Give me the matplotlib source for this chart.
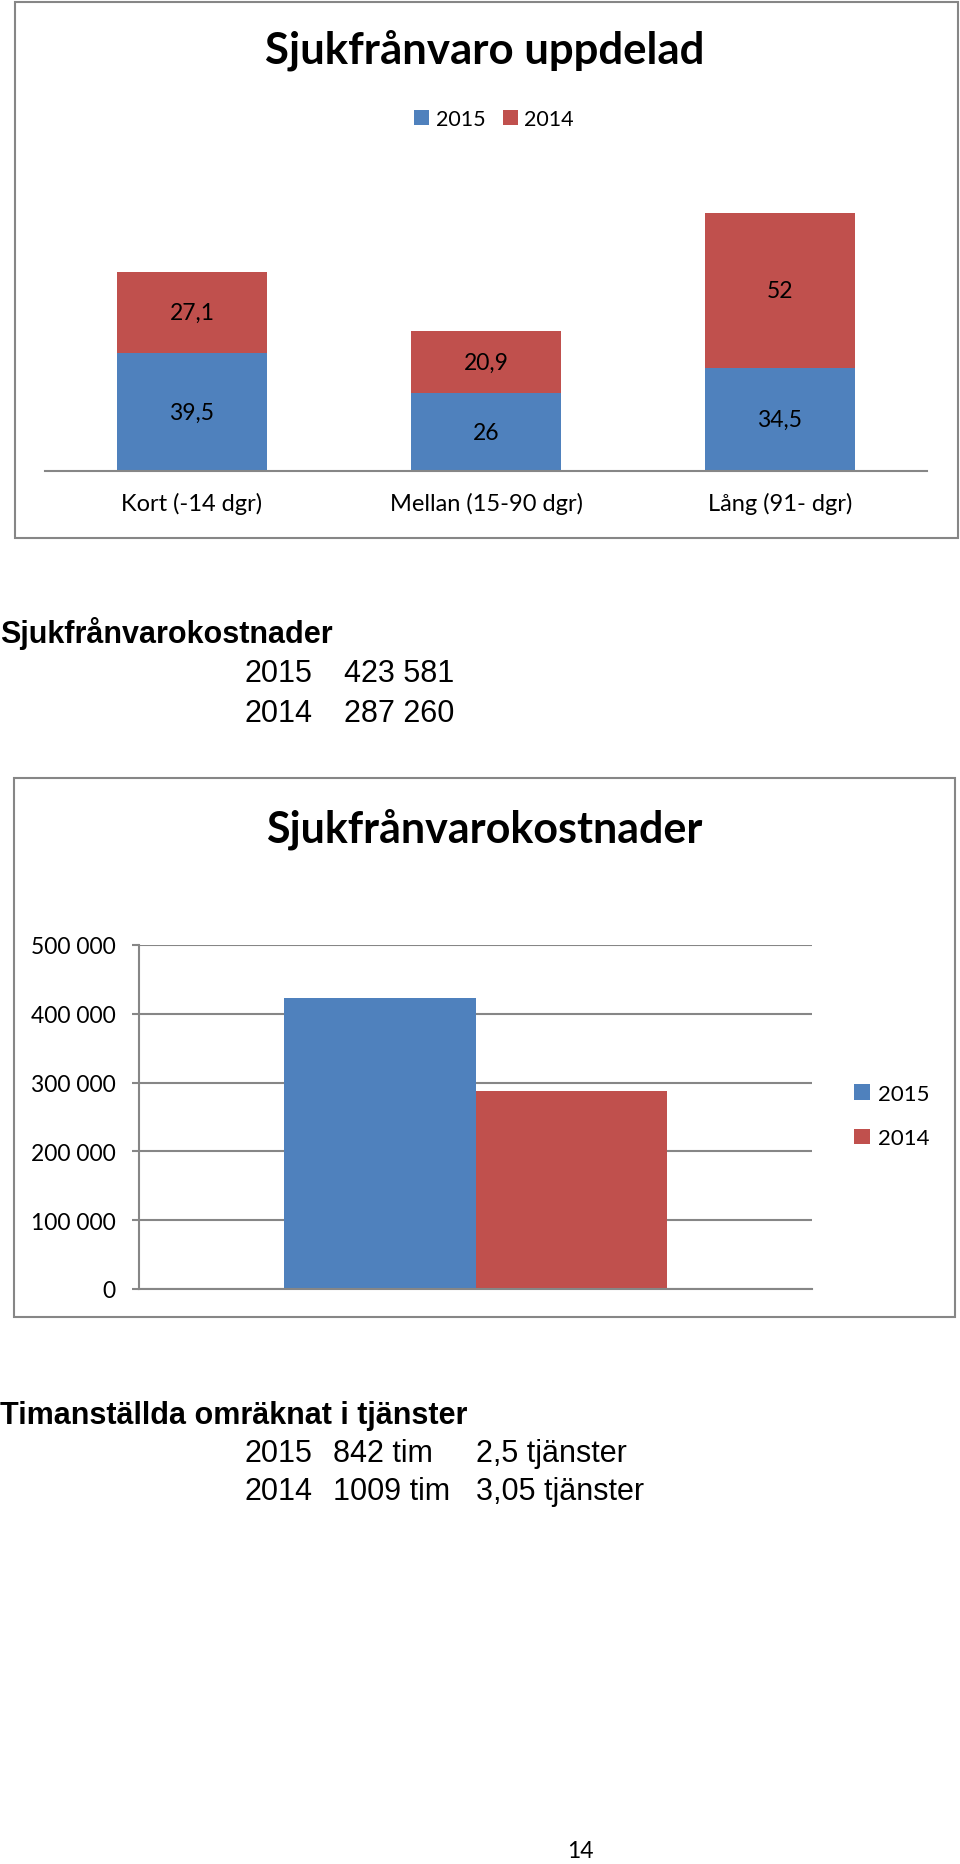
import matplotlib.pyplot as plt
from matplotlib.patches import Rectangle

# data
categories = ['Kort (-14 dgr)', 'Mellan (15-90 dgr)', 'Lång (91- dgr)']
days_2015 = [39.5, 26, 34.5]
days_2014 = [27.1, 20.9, 52]
labels_2015 = ['39,5', '26', '34,5']
labels_2014 = ['27,1', '20,9', '52']

cost_years = ['2015', '2014']
cost_values = [423581, 287260]
cost_ticks = [0, 100000, 200000, 300000, 400000, 500000]
cost_tick_labels = ['0', '100 000', '200 000', '300 000', '400 000', '500 000']

tim_rows = [('2015', '842 tim', '2,5 tjänster'), ('2014', '1009 tim', '3,05 tjänster')]
cost_rows = [('2015', '423 581'), ('2014', '287 260')]

BLUE = '#4f81bd'
RED = '#c0504d'
GRAY = '#868686'
W, H = 960, 1865
CHART_FONT = 'Lato'
TEXT_FONT = 'Liberation Sans'
TXT = 22

fig = plt.figure(figsize=(W / 100, H / 100), dpi=100)


def fx(x):
    return x / W


def fy(y):
    return 1 - y / H


def axes_px(left, top, right, bottom):
    return fig.add_axes([fx(left), fy(bottom), (right - left) / W, (bottom - top) / H])


def border(left, top, right, bottom):
    fig.patches.append(Rectangle((fx(left), fy(bottom)), (right - left) / W, (bottom - top) / H,
                                 transform=fig.transFigure, fill=False, edgecolor=GRAY, linewidth=1.5))


#%% chart 1 - stacked bars
border(15, 3, 958, 539)
fig.text(fx(485), fy(50), 'Sjukfrånvaro uppdelad', ha='center', va='center',
         family=CHART_FONT, fontweight='bold', fontsize=31.5)

ax1 = axes_px(45, 170, 927, 472)
x = range(len(categories))
b1 = ax1.bar(x, days_2015, width=0.507, color=BLUE, label='2015')
b2 = ax1.bar(x, days_2014, width=0.507, bottom=days_2015, color=RED, label='2014')
for i in x:
    ax1.text(i, days_2015[i] / 2, labels_2015[i], ha='center', va='center',
             family=CHART_FONT, fontsize=16.5)
    ax1.text(i, days_2015[i] + days_2014[i] / 2, labels_2014[i], ha='center', va='center',
             family=CHART_FONT, fontsize=16.5)
ax1.set_xlim(-0.5, 2.5)
ax1.set_ylim(0, 101.1)
ax1.set_xticks(list(x))
ax1.set_xticklabels(categories, family=CHART_FONT, fontsize=17)
ax1.tick_params(axis='x', length=0, pad=15)
ax1.set_yticks([])
for s in ['top', 'right', 'left']:
    ax1.spines[s].set_visible(False)
ax1.spines['bottom'].set_color(GRAY)
ax1.spines['bottom'].set_linewidth(1.5)
ax1.patch.set_visible(False)
fig.legend(handles=[b1, b2], loc='center', bbox_to_anchor=(fx(494), fy(120)), ncol=2,
           frameon=False, prop={'family': CHART_FONT, 'size': 15.5},
           handlelength=0.7, handleheight=0.7, handletextpad=0.3, columnspacing=0.8)

#%% text block 1
fig.text(0, fy(634), 'Sjukfrånvarokostnader', ha='left', va='center',
         family=TEXT_FONT, fontweight='bold', fontsize=TXT)
for j, (yr, val) in enumerate(cost_rows):
    yy = fy(674 + j * 40)
    fig.text(fx(245), yy, yr, ha='left', va='center', family=TEXT_FONT, fontsize=TXT)
    fig.text(fx(344), yy, val, ha='left', va='center', family=TEXT_FONT, fontsize=TXT)

#%% chart 2 - cost bars
border(14, 779, 955, 1318)
fig.text(fx(484), fy(829), 'Sjukfrånvarokostnader', ha='center', va='center',
         family=CHART_FONT, fontweight='bold', fontsize=31)

ax2 = axes_px(139, 946, 812, 1290)
bw = 0.284
bars = ax2.bar([-bw / 2, bw / 2], cost_values, width=bw, color=[BLUE, RED])
ax2.set_xlim(-0.5, 0.5)
ax2.set_ylim(0, 500000)
ax2.set_yticks(cost_ticks)
ax2.set_yticklabels(cost_tick_labels, family=CHART_FONT, fontsize=16.5)
ax2.set_xticks([])
ax2.yaxis.grid(True, color=GRAY, linewidth=1.5)
ax2.set_axisbelow(True)
ax2.tick_params(axis='y', length=5, color=GRAY, width=1.5, pad=12)
for s in ['top', 'right']:
    ax2.spines[s].set_visible(False)
for s in ['left', 'bottom']:
    ax2.spines[s].set_color(GRAY)
    ax2.spines[s].set_linewidth(1.5)
ax2.legend(handles=list(bars), labels=cost_years, loc='center left',
           bbox_to_anchor=(fx(834), fy(1117)), bbox_transform=fig.transFigure,
           frameon=False, prop={'family': CHART_FONT, 'size': 16},
           handlelength=0.7, handleheight=0.7, handletextpad=0.4, labelspacing=1.1)

#%% text block 2
fig.text(0, fy(1416), 'Timanställda omräknat i tjänster', ha='left', va='center',
         family=TEXT_FONT, fontweight='bold', fontsize=TXT)
for j, (yr, tim, tj) in enumerate(tim_rows):
    yy = fy(1454 + j * 38)
    fig.text(fx(245), yy, yr, ha='left', va='center', family=TEXT_FONT, fontsize=TXT)
    fig.text(fx(333), yy, tim, ha='left', va='center', family=TEXT_FONT, fontsize=TXT)
    fig.text(fx(476), yy, tj, ha='left', va='center', family=TEXT_FONT, fontsize=TXT)

fig.text(fx(580), fy(1852), '14', ha='center', va='center', family=CHART_FONT, fontsize=16.5)

fig.savefig('out.png', dpi=100)
